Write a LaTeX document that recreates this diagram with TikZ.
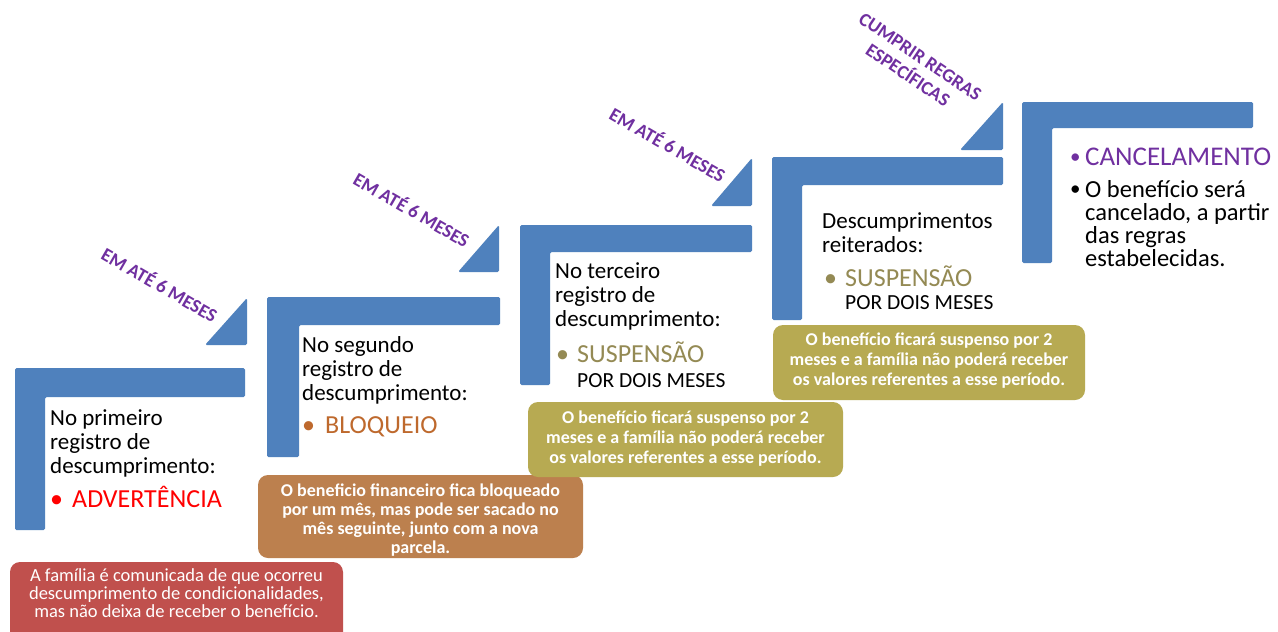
\documentclass[tikz,border=0pt]{standalone}
\usepackage{fontspec}
\setmainfont{Carlito}
\definecolor{stepblue}{RGB}{79,129,189}
\definecolor{advred}{RGB}{255,0,0}
\definecolor{bloqbrown}{RGB}{190,105,45}
\definecolor{suspkhaki}{RGB}{148,138,84}
\definecolor{cancpurple}{RGB}{112,48,160}
\definecolor{boxred}{RGB}{192,80,77}
\definecolor{boxbrown}{RGB}{188,128,78}
\definecolor{boxolive}{RGB}{183,170,82}
\definecolor{lblpurple}{RGB}{112,48,160}
\begin{document}
\begin{tikzpicture}[x=1pt,y=-1pt,
  stepshape/.style={fill=stepblue,rounded corners=1.5pt},
  body/.style={font=\fontsize{23}{24}\selectfont,align=left,anchor=base west,inner sep=0pt},
  bodyfive/.style={font=\fontsize{24.5}{23}\selectfont,align=left,anchor=base west,inner sep=0pt},
  ttl/.style={font=\fontsize{26}{28}\selectfont,anchor=base west,inner sep=0pt},
  sub/.style={font=\fontsize{21.5}{23}\selectfont,anchor=base west,inner sep=0pt},
  smallbul/.style={font=\fontsize{21}{23}\selectfont,anchor=base west,inner sep=0pt},
  infobox/.style={rounded corners=10pt,draw=none},
  infotext/.style={text=white,align=center,inner sep=0pt},
  lbl/.style={font=\bfseries\fontsize{19}{22}\selectfont,text=lblpurple,align=center,inner sep=0pt}
]
\useasboundingbox (0,0) rectangle (1278,632);
\fill[white] (0,0) rectangle (1278,632);

% steps
\fill[stepshape] (15,368) -- (245,368) -- (245,397) -- (45,397) -- (45,530) -- (15,530) -- cycle;
\fill[stepshape] (267,297) -- (500,297) -- (500,325) -- (299,325) -- (299,457) -- (267,457) -- cycle;
\fill[stepshape] (520,225) -- (752,225) -- (752,252) -- (550,252) -- (550,385) -- (520,385) -- cycle;
\fill[stepshape] (772,157) -- (1003,157) -- (1003,185) -- (802,185) -- (802,320) -- (772,320) -- cycle;
\fill[stepshape] (1022,102) -- (1253,102) -- (1253,128) -- (1052,128) -- (1052,263) -- (1022,263) -- cycle;

% triangles
\fill[stepshape] (205,345) -- (247,345) -- (247,298) -- cycle;
\fill[stepshape] (458,272) -- (499,272) -- (499,225) -- cycle;
\fill[stepshape] (711,206) -- (752,206) -- (752,158) -- cycle;
\fill[stepshape] (960,150) -- (1003,150) -- (1003,102) -- cycle;

% rotated labels
\node[lbl,rotate=-30] (l1) at (160,284) {EM ATÉ 6 MESES};
\node[lbl,rotate=-30] (l2) at (412,209) {EM ATÉ 6 MESES};
\node[lbl,rotate=-30] (l3) at (668,144) {EM ATÉ 6 MESES};
\node[lbl,rotate=-34] (l4) at (914,66) {CUMPRIR REGRAS\\ESPECÍFICAS};

% step 1 text
\node[body] (t1) at (50,473) {No primeiro\\registro de\\descumprimento:};
\node[ttl,text=advred] (b1) at (50,507) {•};
\node[ttl,text=advred] (w1) at (72,507) {ADVERTÊNCIA};

% step 2 text
\node[body] (t2) at (302,400) {No segundo\\registro de\\descumprimento:};
\node[ttl,text=bloqbrown] (b2) at (302,433) {•};
\node[ttl,text=bloqbrown] (w2) at (325,433) {BLOQUEIO};

% step 3 text
\node[body] (t3) at (555,326) {No terceiro\\registro de\\descumprimento:};
\node[ttl,text=suspkhaki] (b3) at (556,362) {•};
\node[ttl,text=suspkhaki] (w3) at (577,362) {SUSPENSÃO};
\node[sub] (p3) at (577,387) {POR DOIS MESES};

% step 4 text
\node[body] (t4) at (822,252) {Descumprimentos\\reiterados:};
\node[ttl,text=suspkhaki] (b4) at (824,286) {•};
\node[ttl,text=suspkhaki] (w4) at (845,286) {SUSPENSÃO};
\node[sub] (p4) at (845,309) {POR DOIS MESES};

% step 5 text
\node[smallbul,text=cancpurple] (b5) at (1070,163) {•};
\node[ttl,text=cancpurple,font=\fontsize{27}{28}\selectfont] (w5) at (1085,165) {CANCELAMENTO};
\node[smallbul] (b5b) at (1070,195) {•};
\node[bodyfive] (t5) at (1085,266) {O benefício será\\cancelado, a partir\\das regras\\estabelecidas.};

% info boxes
\begin{scope}
\clip (0,0) rectangle (1278,632);
\fill[infobox,boxred] (10,562) rectangle (343,645);
\end{scope}
\node[infotext,font=\fontsize{18.5}{18}\selectfont] (i1) at (176.5,593) {A família é comunicada de que ocorreu\\descumprimento de condicionalidades,\\mas não deixa de receber o benefício.};

\fill[infobox,boxbrown] (258,475) rectangle (583,558);
\node[infotext,font=\bfseries\fontsize{18}{19}\selectfont] (i2) at (420.5,520) {O beneficio financeiro fica bloqueado\\por um mês, mas pode ser sacado no\\mês seguinte, junto com a nova\\parcela.};

\fill[infobox,boxolive] (528,402) rectangle (843,477);
\node[infotext,font=\bfseries\fontsize{18}{20}\selectfont] (i3) at (685.5,439) {O benefício ficará suspenso por 2\\meses e a família não poderá receber\\os valores referentes a esse período.};

\fill[infobox,boxolive] (773,325) rectangle (1085,400);
\node[infotext,font=\bfseries\fontsize{18}{20}\selectfont] (i4) at (929,361) {O benefício ficará suspenso por 2\\meses e a família não poderá receber\\os valores referentes a esse período.};
\end{tikzpicture}
\end{document}
